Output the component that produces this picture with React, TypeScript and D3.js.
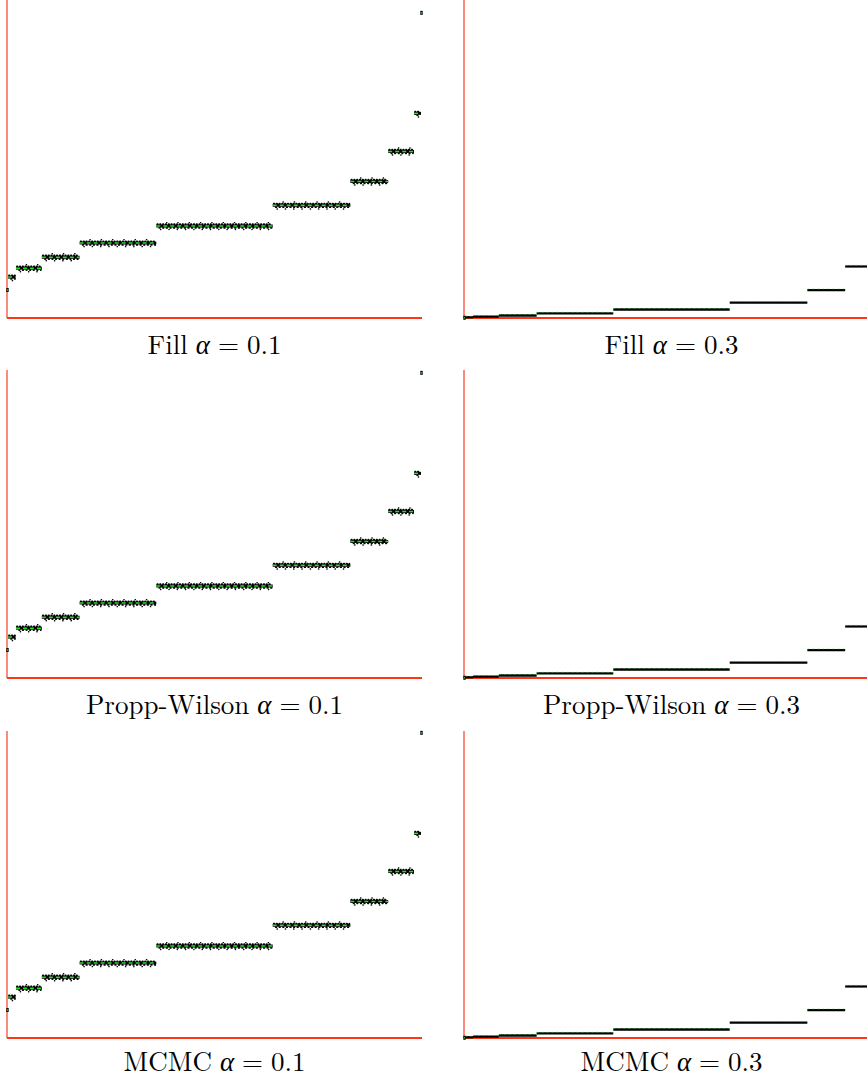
import React from "react";
import * as d3 from "d3";

const levelCounts = [1, 8, 26, 38, 77, 117, 78, 38, 26, 7, 1];

// probability of one state in each level
const probAlpha01 = [0.00069, 0.00101, 0.00123, 0.0015, 0.00185, 0.00227, 0.00278, 0.00337, 0.00411, 0.00505, 0.00753];
const probAlpha03 = [0.000038, 0.000125, 0.00023, 0.00041, 0.00076, 0.0014, 0.00255, 0.0046, 0.0085, 0.0156, 0.0506];

const methods = ["Fill", "Propp-Wilson", "MCMC"];
const alphas = ["0.1", "0.3"];
const yTops = [0.0076, 0.0508];

const W = 867;
const H = 1079;
const colLeft = [7, 464];
const plotW = 415;
const plotH = 308;
const rowBottom = [318, 678, 1038];
const rowAxisTop = [0, 370, 731];
const labelBase = [354, 714, 1071];

const GREEN = "#22e022";

const starts = [0, ...Array.from(d3.cumsum(levelCounts))];
const total = d3.sum(levelCounts);

const Step = ({ x0, x1, y, single, dense }) => {
  if (single) {
    const cx = (x0 + x1) / 2;
    return (
      <g>
        <rect x={cx - 1.2} y={y - 2} width={2.4} height={4} fill="#000" />
        <rect x={cx - 0.7} y={y - 0.7} width={1.4} height={1.4} fill={GREEN} />
      </g>
    );
  }
  if (dense) {
    return (
      <g>
        <line x1={x0} x2={x1} y1={y} y2={y} stroke="#000" strokeWidth={2.3} />
        <line x1={x0} x2={x1} y1={y - 1.1} y2={y - 1.1} stroke={GREEN} strokeWidth={0.8} strokeDasharray="2 3" opacity={0.6} />
      </g>
    );
  }
  return (
    <g strokeLinecap="round">
      <line x1={x0} x2={x1} y1={y} y2={y} stroke="#000" strokeWidth={3} strokeLinecap="butt" />
      <line x1={x0 + 1} x2={x1 - 1} y1={y - 1.8} y2={y - 1.8} stroke="#000" strokeWidth={1.7} strokeDasharray="0.6 2.2" />
      <line x1={x0 + 1} x2={x1 - 1} y1={y + 1.9} y2={y + 1.9} stroke="#000" strokeWidth={1.7} strokeDasharray="0.6 3" strokeDashoffset={1.5} />
      <line x1={x0 + 2} x2={x1 - 1} y1={y - 3.4} y2={y - 3.4} stroke="#000" strokeWidth={1.4} strokeDasharray="0.3 11" strokeDashoffset={3} />
      <line x1={x0 + 2} x2={x1 - 1} y1={y + 3.6} y2={y + 3.6} stroke="#000" strokeWidth={1.4} strokeDasharray="0.3 8" strokeDashoffset={6} />
      <line x1={x0} x2={x1} y1={y} y2={y} stroke={GREEN} strokeWidth={1.5} strokeDasharray="4 3" strokeLinecap="butt" />
    </g>
  );
};

const Panel = ({ row, col }) => {
  const left = colLeft[col];
  const bottom = rowBottom[row];
  const levels = col === 0 ? probAlpha01 : probAlpha03;
  const x = d3.scaleLinear().domain([0, total]).range([left, left + plotW]);
  const y = d3.scaleLinear().domain([0, yTops[col]]).range([bottom, bottom - plotH]);

  return (
    <g>
      <line x1={left} x2={left} y1={rowAxisTop[row]} y2={bottom} stroke="#fb8b7c" strokeWidth={2} />
      <line x1={left} x2={left + plotW} y1={bottom} y2={bottom} stroke="#ff3517" strokeWidth={1.8} />
      {levels.map((p, i) => (
        <Step
          key={i}
          x0={x(starts[i])}
          x1={x(starts[i] + levelCounts[i])}
          y={y(p)}
          single={levelCounts[i] === 1}
          dense={col === 1}
        />
      ))}
      <text
        x={left + plotW / 2}
        y={labelBase[row]}
        textAnchor="middle"
        fontFamily="'Latin Modern Roman', 'Liberation Serif', serif"
        fontSize={27}
        fill="#000"
      >
        {methods[row]}
        <tspan dx={8} fontStyle="italic">α</tspan>
        <tspan dx={8}>=</tspan>
        <tspan dx={8}>{alphas[col]}</tspan>
      </text>
    </g>
  );
};

export default function App() {
  return (
    <svg
      width={W}
      height={H}
      style={{ position: "absolute", left: 0, top: 0, background: "#fff" }}
    >
      {methods.map((m, r) =>
        alphas.map((a, c) => <Panel key={`${r}-${c}`} row={r} col={c} />)
      )}
    </svg>
  );
}
